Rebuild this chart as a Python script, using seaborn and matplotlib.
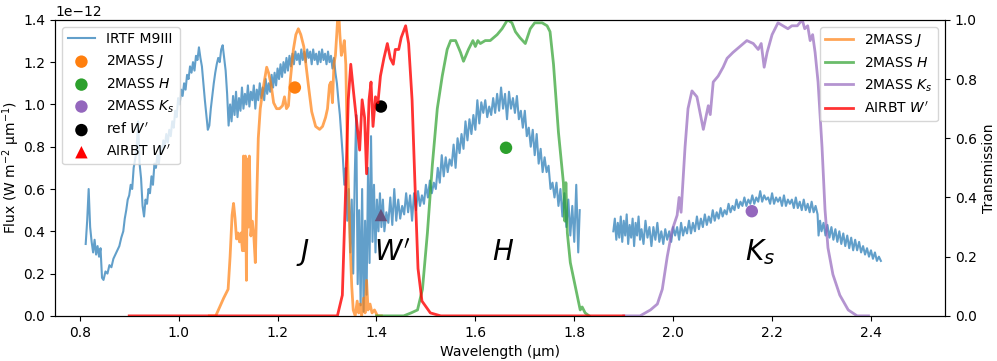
import numpy as np
import pandas as pd
import matplotlib
matplotlib.use("Agg")
import matplotlib.pyplot as plt
import seaborn as sns

# IRTF M9III spectrum: (wavelength um, flux in 1e-12 W m^-2 um^-1)
spec_jh = [
    (0.812, 0.34), (0.815, 0.45), (0.818, 0.60), (0.821, 0.42), (0.824, 0.35), (0.827, 0.30),
    (0.830, 0.36), (0.833, 0.29), (0.836, 0.33), (0.839, 0.28), (0.842, 0.32), (0.845, 0.18),
    (0.848, 0.17), (0.852, 0.21), (0.856, 0.20), (0.860, 0.24), (0.864, 0.23), (0.868, 0.27),
    (0.872, 0.29), (0.876, 0.31), (0.880, 0.33), (0.884, 0.37), (0.888, 0.40), (0.891, 0.46),
    (0.894, 0.50), (0.897, 0.55), (0.900, 0.57), (0.903, 0.62), (0.906, 0.60), (0.909, 0.70),
    (0.912, 0.74), (0.915, 0.79), (0.918, 0.92), (0.921, 0.72), (0.924, 0.65), (0.927, 0.52),
    (0.930, 0.47), (0.933, 0.55), (0.936, 0.53), (0.939, 0.60), (0.942, 0.58), (0.945, 0.66),
    (0.948, 0.62), (0.951, 0.72), (0.954, 0.70), (0.957, 0.76), (0.960, 0.72), (0.963, 0.80),
    (0.966, 0.77), (0.969, 0.83), (0.972, 0.80), (0.975, 0.86), (0.978, 0.82), (0.981, 0.88),
    (0.984, 0.85), (0.987, 0.92), (0.990, 0.89), (0.993, 0.97), (0.996, 0.94), (0.999, 1.03),
    (1.002, 1.00), (1.005, 1.07), (1.008, 1.04), (1.011, 1.10), (1.014, 1.07), (1.017, 1.14),
    (1.020, 1.12), (1.023, 1.18), (1.026, 1.15), (1.029, 1.20), (1.032, 1.16), (1.035, 1.23),
    (1.038, 1.21), (1.041, 1.27), (1.044, 1.22), (1.047, 1.18), (1.050, 1.10), (1.053, 1.02),
    (1.056, 0.95), (1.059, 0.88), (1.062, 0.90), (1.065, 0.98), (1.068, 1.04), (1.071, 1.10),
    (1.074, 1.15), (1.077, 1.19), (1.080, 1.22), (1.083, 1.20), (1.086, 1.26), (1.089, 1.28),
    (1.092, 1.22), (1.095, 1.16), (1.098, 1.05), (1.101, 0.90), (1.104, 1.00), (1.107, 0.92),
    (1.110, 1.04), (1.113, 0.95), (1.116, 1.06), (1.119, 0.94), (1.122, 1.03), (1.125, 0.97),
    (1.128, 1.08), (1.131, 0.98), (1.134, 1.05), (1.137, 1.00), (1.140, 1.09), (1.143, 0.99),
    (1.146, 1.06), (1.149, 1.02), (1.152, 1.09), (1.155, 0.98), (1.158, 1.07), (1.161, 1.02),
    (1.164, 1.10), (1.167, 1.03), (1.170, 1.08), (1.173, 1.02), (1.176, 1.12), (1.179, 1.05),
    (1.182, 1.10), (1.185, 1.06), (1.188, 1.14), (1.191, 1.08), (1.194, 1.15), (1.197, 1.09),
    (1.200, 1.17), (1.203, 1.12), (1.206, 1.19), (1.209, 1.13), (1.212, 1.20), (1.215, 1.15),
    (1.218, 1.22), (1.221, 1.16), (1.224, 1.23), (1.227, 1.18), (1.230, 1.24), (1.233, 1.19),
    (1.236, 1.25), (1.239, 1.21), (1.242, 1.24), (1.245, 1.19), (1.248, 1.26), (1.251, 1.21),
    (1.254, 1.25), (1.257, 1.20), (1.260, 1.26), (1.263, 1.22), (1.266, 1.25), (1.269, 1.19),
    (1.272, 1.26), (1.275, 1.21), (1.278, 1.24), (1.281, 1.19), (1.284, 1.25), (1.287, 1.20),
    (1.290, 1.26), (1.293, 1.21), (1.296, 1.24), (1.299, 1.19), (1.302, 1.25), (1.305, 1.20),
    (1.308, 1.23), (1.311, 1.17), (1.314, 1.22), (1.317, 1.15), (1.320, 1.10), (1.323, 1.02),
    (1.326, 0.95), (1.329, 0.85), (1.332, 0.75), (1.335, 0.62), (1.338, 0.70), (1.341, 0.45),
    (1.344, 0.60), (1.347, 0.30), (1.350, 0.55), (1.353, 0.20), (1.356, 0.65), (1.359, 0.95),
    (1.362, 0.15), (1.365, 0.50), (1.368, 0.05), (1.371, 0.60), (1.374, 0.02), (1.377, 0.45),
    (1.380, 0.10), (1.383, 0.70), (1.386, 0.25), (1.389, 0.85), (1.392, 0.35), (1.395, 0.62),
    (1.398, 0.30), (1.401, 0.55), (1.404, 0.40), (1.407, 0.58), (1.410, 0.42), (1.413, 0.55),
    (1.416, 0.40), (1.420, 0.49), (1.424, 0.44), (1.428, 0.56), (1.432, 0.43), (1.436, 0.60),
    (1.440, 0.45), (1.444, 0.55), (1.448, 0.46), (1.452, 0.52), (1.456, 0.48), (1.460, 0.58),
    (1.464, 0.49), (1.468, 0.57), (1.472, 0.45), (1.476, 0.58), (1.480, 0.50), (1.484, 0.59),
    (1.488, 0.52), (1.492, 0.57), (1.496, 0.53), (1.500, 0.62), (1.504, 0.56), (1.508, 0.64),
    (1.512, 0.58), (1.516, 0.63), (1.520, 0.60), (1.524, 0.70), (1.528, 0.63), (1.532, 0.76),
    (1.536, 0.66), (1.540, 0.75), (1.544, 0.68), (1.548, 0.74), (1.552, 0.71), (1.556, 0.81),
    (1.560, 0.70), (1.564, 0.84), (1.568, 0.77), (1.572, 0.86), (1.576, 0.79), (1.580, 0.92),
    (1.584, 0.83), (1.588, 0.93), (1.592, 0.86), (1.596, 0.95), (1.600, 0.88), (1.604, 1.02),
    (1.608, 0.91), (1.612, 1.01), (1.616, 0.96), (1.620, 1.02), (1.624, 0.94), (1.628, 0.99),
    (1.632, 0.95), (1.636, 1.03), (1.640, 0.96), (1.644, 1.05), (1.648, 0.97), (1.652, 1.08),
    (1.656, 0.98), (1.660, 1.05), (1.664, 0.93), (1.668, 1.06), (1.672, 0.98), (1.676, 1.03),
    (1.680, 0.96), (1.684, 1.04), (1.688, 0.93), (1.692, 0.97), (1.696, 0.89), (1.700, 0.97),
    (1.704, 0.85), (1.708, 0.89), (1.712, 0.80), (1.716, 0.88), (1.720, 0.76), (1.724, 0.86),
    (1.728, 0.72), (1.732, 0.79), (1.736, 0.68), (1.740, 0.75), (1.744, 0.68), (1.748, 0.71),
    (1.752, 0.60), (1.756, 0.63), (1.760, 0.56), (1.764, 0.63), (1.768, 0.52), (1.772, 0.60),
    (1.776, 0.47), (1.780, 0.58), (1.784, 0.42), (1.788, 0.55), (1.792, 0.38), (1.796, 0.52),
    (1.800, 0.35), (1.804, 0.62), (1.808, 0.30), (1.811, 0.50),
]
spec_k = [
    (1.879, 0.40), (1.882, 0.46), (1.885, 0.36), (1.888, 0.44), (1.891, 0.37), (1.894, 0.47),
    (1.897, 0.35), (1.900, 0.45), (1.903, 0.38), (1.906, 0.48), (1.909, 0.34), (1.912, 0.43),
    (1.915, 0.37), (1.918, 0.46), (1.921, 0.33), (1.924, 0.44), (1.927, 0.38), (1.930, 0.47),
    (1.933, 0.36), (1.936, 0.41), (1.940, 0.34), (1.944, 0.45), (1.948, 0.37), (1.952, 0.42),
    (1.956, 0.33), (1.960, 0.42), (1.964, 0.36), (1.968, 0.44), (1.972, 0.35), (1.976, 0.40),
    (1.980, 0.34), (1.984, 0.41), (1.988, 0.36), (1.992, 0.40), (1.996, 0.35), (2.000, 0.42),
    (2.004, 0.38), (2.008, 0.42), (2.012, 0.36), (2.016, 0.44), (2.020, 0.38), (2.024, 0.42),
    (2.028, 0.39), (2.032, 0.45), (2.036, 0.39), (2.040, 0.44), (2.044, 0.40), (2.048, 0.47),
    (2.052, 0.41), (2.056, 0.46), (2.060, 0.42), (2.064, 0.48), (2.068, 0.43), (2.072, 0.47),
    (2.076, 0.44), (2.080, 0.50), (2.084, 0.45), (2.088, 0.49), (2.092, 0.46), (2.096, 0.51),
    (2.100, 0.47), (2.104, 0.50), (2.108, 0.48), (2.112, 0.53), (2.116, 0.49), (2.120, 0.52),
    (2.124, 0.50), (2.128, 0.55), (2.132, 0.51), (2.136, 0.54), (2.140, 0.52), (2.144, 0.56),
    (2.148, 0.52), (2.152, 0.55), (2.156, 0.53), (2.160, 0.57), (2.164, 0.53), (2.168, 0.56),
    (2.172, 0.54), (2.176, 0.59), (2.180, 0.54), (2.184, 0.57), (2.188, 0.55), (2.192, 0.56),
    (2.196, 0.53), (2.200, 0.58), (2.204, 0.53), (2.208, 0.56), (2.212, 0.54), (2.216, 0.56),
    (2.220, 0.52), (2.224, 0.57), (2.228, 0.52), (2.232, 0.55), (2.236, 0.53), (2.240, 0.55),
    (2.244, 0.51), (2.248, 0.56), (2.252, 0.51), (2.256, 0.54), (2.260, 0.50), (2.264, 0.55),
    (2.268, 0.50), (2.272, 0.53), (2.276, 0.49), (2.280, 0.54), (2.284, 0.49), (2.288, 0.52),
    (2.292, 0.48), (2.294, 0.38), (2.297, 0.45), (2.300, 0.40), (2.304, 0.44), (2.308, 0.38),
    (2.312, 0.43), (2.316, 0.37), (2.320, 0.42), (2.324, 0.36), (2.328, 0.41), (2.332, 0.35),
    (2.336, 0.40), (2.340, 0.34), (2.344, 0.39), (2.348, 0.33), (2.352, 0.38), (2.356, 0.32),
    (2.360, 0.37), (2.364, 0.31), (2.368, 0.36), (2.372, 0.31), (2.376, 0.35), (2.380, 0.30),
    (2.384, 0.33), (2.388, 0.29), (2.392, 0.32), (2.396, 0.28), (2.400, 0.31), (2.404, 0.27),
    (2.408, 0.30), (2.412, 0.26), (2.416, 0.28), (2.420, 0.26),
]

# filter transmission curves: (wavelength um, transmission)
filt_j = [
    (1.062, 0.0), (1.075, 0.0), (1.083, 0.03), (1.091, 0.06), (1.100, 0.09), (1.104, 0.20),
    (1.108, 0.34), (1.111, 0.38), (1.114, 0.33), (1.117, 0.26), (1.120, 0.28), (1.123, 0.25),
    (1.126, 0.28), (1.129, 0.22), (1.131, 0.54), (1.133, 0.22), (1.135, 0.54), (1.137, 0.12),
    (1.139, 0.53), (1.141, 0.30), (1.143, 0.54), (1.146, 0.27), (1.149, 0.32), (1.152, 0.27),
    (1.155, 0.18), (1.158, 0.40), (1.161, 0.60), (1.165, 0.70), (1.170, 0.76), (1.174, 0.80),
    (1.178, 0.84), (1.182, 0.82), (1.187, 0.78), (1.192, 0.72), (1.198, 0.70), (1.204, 0.70),
    (1.210, 0.71), (1.214, 0.74), (1.218, 0.70), (1.222, 0.71), (1.226, 0.80), (1.232, 0.90),
    (1.237, 0.95), (1.242, 0.97), (1.247, 0.95), (1.253, 0.91), (1.258, 0.84), (1.263, 0.77),
    (1.269, 0.69), (1.277, 0.64), (1.285, 0.63), (1.291, 0.64), (1.297, 0.67), (1.301, 0.70),
    (1.305, 0.78), (1.308, 0.79), (1.311, 0.72), (1.314, 0.85), (1.317, 0.88), (1.320, 0.96),
    (1.323, 1.05), (1.326, 0.95), (1.329, 0.88), (1.332, 0.90), (1.335, 0.93), (1.338, 0.85),
    (1.341, 0.57), (1.344, 0.40), (1.347, 0.23), (1.350, 0.10), (1.353, 0.02), (1.357, 0.0),
    (1.361, 0.05), (1.364, 0.01), (1.367, 0.04), (1.370, 0.0), (1.374, 0.06), (1.377, 0.01),
    (1.380, 0.12), (1.383, 0.02), (1.387, 0.04), (1.391, 0.01), (1.396, 0.02), (1.402, 0.0),
    (1.410, 0.0),
]
filt_h = [
    (1.400, 0.0), (1.455, 0.0), (1.470, 0.01), (1.483, 0.02), (1.493, 0.09), (1.503, 0.28),
    (1.513, 0.51), (1.523, 0.70), (1.533, 0.81), (1.543, 0.90), (1.550, 0.93), (1.560, 0.93),
    (1.570, 0.89), (1.576, 0.86), (1.586, 0.90), (1.595, 0.93), (1.600, 0.91), (1.605, 0.93),
    (1.610, 0.92), (1.620, 0.93), (1.630, 0.93), (1.644, 0.95), (1.654, 0.97), (1.665, 1.0),
    (1.674, 0.99), (1.681, 0.96), (1.690, 0.94), (1.701, 0.92), (1.711, 0.97), (1.720, 0.99),
    (1.735, 0.99), (1.745, 0.98), (1.751, 0.96), (1.758, 0.85), (1.768, 0.62), (1.778, 0.45),
    (1.781, 0.32), (1.783, 0.45), (1.786, 0.28), (1.792, 0.18), (1.802, 0.10), (1.812, 0.02),
    (1.816, 0.03), (1.822, 0.01), (1.830, 0.0),
]
filt_ks = [
    (1.900, 0.0), (1.933, 0.0), (1.954, 0.02), (1.968, 0.04), (1.978, 0.09), (1.988, 0.20),
    (1.998, 0.29), (2.008, 0.34), (2.012, 0.40), (2.016, 0.35), (2.024, 0.57), (2.030, 0.70),
    (2.038, 0.76), (2.048, 0.74), (2.061, 0.63), (2.071, 0.71), (2.075, 0.68), (2.081, 0.79),
    (2.091, 0.81), (2.101, 0.84), (2.109, 0.87), (2.121, 0.89), (2.135, 0.91), (2.149, 0.93),
    (2.162, 0.92), (2.172, 0.90), (2.178, 0.92), (2.184, 0.84), (2.190, 0.89), (2.200, 0.95),
    (2.212, 0.99), (2.222, 0.98), (2.232, 0.97), (2.240, 0.98), (2.251, 0.98), (2.261, 1.0),
    (2.266, 0.97), (2.272, 0.98), (2.277, 0.93), (2.282, 0.95), (2.287, 0.89), (2.293, 0.79),
    (2.301, 0.57), (2.307, 0.36), (2.313, 0.23), (2.323, 0.14), (2.337, 0.07), (2.354, 0.02),
    (2.372, 0.0), (2.395, 0.0),
]
filt_w = [
    (0.900, 0.0), (1.300, 0.0), (1.321, 0.0), (1.331, 0.07), (1.337, 0.39), (1.343, 0.73),
    (1.348, 0.85), (1.354, 0.75), (1.361, 0.64), (1.366, 0.56), (1.371, 0.73), (1.376, 0.67),
    (1.380, 0.48), (1.385, 0.73), (1.389, 0.79), (1.393, 0.64), (1.398, 0.74), (1.403, 0.72),
    (1.408, 0.81), (1.415, 0.87), (1.422, 0.92), (1.428, 0.87), (1.434, 0.85), (1.438, 0.90),
    (1.445, 0.90), (1.450, 0.94), (1.459, 0.98), (1.465, 0.92), (1.472, 0.73), (1.479, 0.39),
    (1.484, 0.16), (1.492, 0.05), (1.509, 0.01), (1.530, 0.0), (1.900, 0.0),
]

# photometry points (flux in 1e-12)
phot_names = ['2MASS $J$', '2MASS $H$', '2MASS $K_s$', "ref $W'$", "AIRBT $W'$"]
phot_wl = [1.235, 1.662, 2.159, 1.409, 1.409]
phot_flux = [1.08, 0.795, 0.495, 0.99, 0.477]
phot_colors = ['C1', 'C2', 'C4', 'k', 'r']
phot_markers = ['o', 'o', 'o', 'o', '^']

# band names written on the plot
band_names = ['$J$', "$W'$", '$H$', '$K_s$']
band_wl = [1.252, 1.432, 1.657, 2.176]
band_flux = [0.30, 0.30, 0.30, 0.30]

fig, ax = plt.subplots(figsize=(9.97, 3.61), dpi=100)
fig.subplots_adjust(left=0.0552, right=0.948, bottom=0.125, top=0.945)

for i, seg in enumerate([spec_jh, spec_k]):
    df = pd.DataFrame(seg, columns=['wl', 'flux'])
    df['flux'] = df['flux'] * 1e-12
    sns.lineplot(data=df, x='wl', y='flux', color='C0', alpha=0.7, lw=1.5,
                 estimator=None, sort=False, ax=ax,
                 label='IRTF M9III' if i == 0 else None)

for name, w, f, c, m in zip(phot_names, phot_wl, phot_flux, phot_colors, phot_markers):
    sns.scatterplot(x=[w], y=[f * 1e-12], color=c, marker=m, s=80,
                    edgecolor='none', label=name, ax=ax)

for name, w, f in zip(band_names, band_wl, band_flux):
    ax.text(w, f * 1e-12, name, fontsize=20, ha='center', va='center')

ax.set_xlim(0.75, 2.55)
ax.set_ylim(0, 1.4e-12)
ax.set_xlabel('Wavelength (µm)')
ax.set_ylabel('Flux (W m$^{-2}$ µm$^{-1}$)')
ax.yaxis.set_label_coords(-0.037, 0.5)
ax.legend(loc='upper left')

ax2 = ax.twinx()
filters = [('2MASS $J$', filt_j, 'C1', 0.7), ('2MASS $H$', filt_h, 'C2', 0.7),
           ('2MASS $K_s$', filt_ks, 'C4', 0.7), ("AIRBT $W'$", filt_w, 'red', 0.8)]
for name, data, c, a in filters:
    df = pd.DataFrame(data, columns=['wl', 'trans'])
    sns.lineplot(data=df, x='wl', y='trans', color=c, alpha=a, lw=2,
                 estimator=None, sort=False, label=name, ax=ax2)

ax2.set_ylim(0, 1.0)
ax2.set_ylabel('Transmission')
ax2.legend(loc='upper right')

fig.savefig('out.png', dpi=100)
